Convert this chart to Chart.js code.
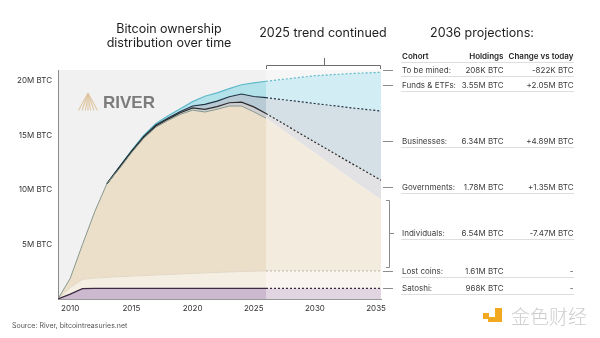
<!DOCTYPE html>
<html>
<head>
<meta charset="utf-8">
<title>Bitcoin ownership distribution over time</title>
<script src="https://cdn.jsdelivr.net/npm/chart.js@4.4.1/dist/chart.umd.min.js"></script>
<style>
  html, body { margin: 0; padding: 0; background: #fff; }
  #wrap { position: relative; width: 600px; height: 338px; overflow: hidden;
          font-family: Inter, "Noto Sans", sans-serif; color: #222; }
  #chart { position: absolute; left: 0; top: 0; }
  .txt { position: absolute; white-space: nowrap; line-height: 1; }
  .title { font-size: 12.5px; color: #1e1e1e; transform: translateX(-50%); text-align: center; }
  .cell { position: absolute; white-space: nowrap; font-size: 8px; line-height: 10px; color: #3c3c3c; }
  .hd { font-weight: 600; color: #1e1e1e; }
  .num { text-align: right; }
  .rule { position: absolute; left: 401px; width: 173px; height: 1px; background: #dedede; }
  .mark { position: absolute; background: #f3a91f; }
</style>
</head>
<body>
<div id="wrap">
  <canvas id="chart" width="600" height="338"></canvas>

  <div class="txt title" style="left:169px;top:22px;line-height:14px">Bitcoin ownership<br>distribution over time</div>
  <div class="txt title" style="left:323px;top:27px">2025 trend continued</div>
  <div class="txt title" style="left:482px;top:27px">2036 projections:</div>

  <svg style="position:absolute;left:78px;top:93px" width="20" height="18">
    <g stroke="#dfc6a3" stroke-width="1.1">
      <line x1="10" y1="0" x2="0.5" y2="17.5"/><line x1="10" y1="0" x2="4" y2="17.5"/>
      <line x1="10" y1="0" x2="7.5" y2="17.5"/><line x1="10" y1="0" x2="10" y2="17.5"/>
      <line x1="10" y1="0" x2="12.5" y2="17.5"/><line x1="10" y1="0" x2="16" y2="17.5"/>
      <line x1="10" y1="0" x2="19.5" y2="17.5"/>
    </g>
  </svg>
  <div class="txt" style="left:103px;top:94px;font-size:17px;font-weight:700;color:#7c7c7c;font-family:'Liberation Sans',Arial,sans-serif">RIVER</div>

  <div id="table"></div>

  <div class="txt" style="left:12px;top:322px;font-size:7px;color:#555">Source: River, bitcointreasuries.net</div>

  <div class="mark" style="left:483px;top:313px;width:6px;height:6px"></div>
  <div class="mark" style="left:495px;top:308px;width:7px;height:14px"></div>
  <div class="mark" style="left:488px;top:317px;width:14px;height:5px"></div>
  <div class="txt" style="left:511px;top:306px;font-size:19px;font-weight:300;color:#cdcdcd;font-family:'Noto Sans CJK SC',sans-serif">金色财经</div>
</div>

<script>
// yearly points (Jan 1); after 2026 the 2025 trend is continued to the right edge
const years = [2009, 2010, 2011, 2012, 2013, 2014, 2015, 2016, 2017, 2018, 2019,
               2020, 2021, 2022, 2023, 2024, 2025, 2026, 2030, 2033, 2035.4];

// holdings per cohort, million BTC
const satoshi      = [0, 0.45, 0.95, 0.968, 0.968, 0.968, 0.968, 0.968, 0.968, 0.968, 0.968,
                      0.968, 0.968, 0.968, 0.968, 0.968, 0.968, 0.968, 0.968, 0.968, 0.968];
const lostCoins    = [0, 0.6, 0.85, 0.95, 1.02, 1.08, 1.13, 1.18, 1.23, 1.28, 1.33,
                      1.38, 1.43, 1.47, 1.51, 1.55, 1.58, 1.61, 1.61, 1.61, 1.61];
const individuals  = [0, 0.85, 3.2, 6.08, 8.6, 9.88, 11.3, 12.58, 13.55, 14.13, 14.63,
                      14.97, 14.75, 14.96, 15.22, 15.18, 14.62, 14.01, 10.8, 8.4, 6.54];
const governments  = [0, 0, 0, 0, 0, 0.1, 0.1, 0.1, 0.12, 0.12, 0.15,
                      0.2, 0.25, 0.25, 0.3, 0.35, 0.45, 0.43, 1.0, 1.45, 1.78];
const businesses   = [0, 0, 0, 0, 0, 0.05, 0.05, 0.07, 0.08, 0.1, 0.12,
                      0.18, 0.45, 0.5, 0.55, 0.75, 0.95, 1.45, 3.55, 5.1, 6.34];
const fundsEtfs    = [0, 0, 0, 0, 0, 0.02, 0.05, 0.1, 0.15, 0.2, 0.25,
                      0.4, 0.75, 0.75, 0.75, 0.85, 1.25, 1.5, 2.55, 3.15, 3.55];

const projStart = 2026;
const maxSupply = 21;
const xTicks = [2010, 2015, 2020, 2025, 2030, 2035];
const yTicks = [5, 10, 15, 20];

// 2036 projection table
const cohortNames   = ['To be mined:', 'Funds & ETFs:', 'Businesses:', 'Governments:', 'Individuals:', 'Lost coins:', 'Satoshi:'];
const holdings2036  = ['208K BTC', '3.55M BTC', '6.34M BTC', '1.78M BTC', '6.54M BTC', '1.61M BTC', '968K BTC'];
const changeVsToday = ['-822K BTC', '+2.05M BTC', '+4.89M BTC', '+1.35M BTC', '-7.47M BTC', '-', '-'];

// layout of the table rows (px)
const rowY = [69.5, 85, 141, 186.5, 232.5, 271, 287.5];

function cell(text, y, left, right, cls) {
  const d = document.createElement('div');
  d.className = 'cell ' + (cls || '');
  d.textContent = text;
  d.style.top = (y - 5) + 'px';
  if (left != null) d.style.left = left + 'px';
  if (right != null) d.style.right = (600 - right) + 'px';
  document.getElementById('table').appendChild(d);
}
function rule(y) {
  const d = document.createElement('div');
  d.className = 'rule';
  d.style.top = y + 'px';
  document.getElementById('table').appendChild(d);
}

cell('Cohort', 55.5, 402, null, 'hd');
cell('Holdings', 55.5, null, 503.5, 'hd num');
cell('Change vs today', 55.5, null, 573.5, 'hd num');
rule(62);
cohortNames.forEach((name, i) => {
  cell(name, rowY[i], 402);
  cell(holdings2036[i], rowY[i], null, 503.5, 'num');
  cell(changeVsToday[i], rowY[i], null, 573.5, 'num');
  rule(rowY[i] + 6);
});

const isProj = ctx => ctx.p0.parsed.x >= projStart;
// no edge line while a cohort still holds nothing
const isEmpty = ctx => ctx.p0.parsed.y === 0 && ctx.p1.parsed.y === 0;

function series(label, values, fill, line, width, projLine, first) {
  return {
    label,
    data: years.map((x, i) => ({ x, y: values[i] })),
    backgroundColor: fill,
    borderColor: line,
    borderWidth: width,
    fill: first ? 'origin' : '-1',
    pointRadius: 0,
    tension: 0,
    segment: {
      borderDash: ctx => isProj(ctx) ? [2, 2] : [],
      borderColor: ctx => isProj(ctx) ? projLine : (isEmpty(ctx) && !first ? 'rgba(0,0,0,0)' : line)
    }
  };
}

const decor = {
  id: 'decor',
  beforeDraw(chart) {
    const { ctx, chartArea: a } = chart;
    ctx.save();
    ctx.fillStyle = '#f1f1f1';
    ctx.fillRect(a.left, a.top, a.right - a.left, a.bottom - a.top);
    ctx.restore();
  },
  // fills are already drawn here (filler drawTime), lines come after
  beforeDatasetsDraw(chart) {
    const { ctx, chartArea: a, scales: { x } } = chart;
    const x0 = x.getPixelForValue(projStart);
    ctx.save();
    ctx.fillStyle = 'rgba(255,255,255,0.4)';
    ctx.fillRect(x0, a.top, a.right - x0, a.bottom - a.top);
    ctx.restore();
  },
  afterDraw(chart) {
    const { ctx, chartArea: a, scales: { x } } = chart;
    const x0 = Math.round(x.getPixelForValue(projStart)) + 0.5;
    const x1 = Math.round(a.right) - 0.5;
    const xm = Math.round((x0 + x1) / 2) + 0.5;
    ctx.save();
    ctx.lineWidth = 1;
    ctx.strokeStyle = '#6e6e6e';
    ctx.beginPath();
    ctx.moveTo(x0, 69); ctx.lineTo(x0, 65.5); ctx.lineTo(x1, 65.5); ctx.lineTo(x1, 69);
    ctx.moveTo(xm, 65.5); ctx.lineTo(xm, 58);
    ctx.stroke();

    ctx.strokeStyle = '#8c8c8c';
    ctx.beginPath();
    rowY.forEach((y, i) => {
      const yy = Math.round(y) + 0.5;
      if (i === 4) {
        ctx.moveTo(389.5, yy); ctx.lineTo(394, yy);
      } else {
        ctx.moveTo(383, yy); ctx.lineTo(393, yy);
      }
    });
    // bracket for individuals
    ctx.moveTo(386, 200.5); ctx.lineTo(389.5, 200.5); ctx.lineTo(389.5, 267.5); ctx.lineTo(386, 267.5);
    ctx.stroke();
    ctx.restore();
  }
};

new Chart(document.getElementById('chart'), {
  type: 'line',
  data: {
    datasets: [
      series('Satoshi', satoshi, '#cdb9cf', '#3b2a42', 1.2, '#3b2a42', true),
      series('Lost coins', lostCoins, '#f5efe3', '#e3d8c6', 1, '#b9b1a6'),
      series('Individuals', individuals, '#ecdfc9', '#86998f', 1, 'rgba(0,0,0,0)'),
      series('Governments', governments, '#cfcfd2', '#2b2b2b', 1.2, '#2b2b2b'),
      series('Businesses', businesses, '#b8cbd5', '#1e3547', 1.2, '#1e3547'),
      series('Funds & ETFs', fundsEtfs, '#b4e2eb', '#5fb9c9', 1.2, '#5fb9c9')
    ]
  },
  options: {
    responsive: false,
    animation: false,
    devicePixelRatio: 1,
    layout: { padding: { left: 0, top: 70, right: 219, bottom: 19 } },
    plugins: {
      legend: { display: false },
      tooltip: { enabled: false },
      filler: { drawTime: 'beforeDatasetsDraw' }
    },
    scales: {
      x: {
        type: 'linear',
        min: 2009,
        max: years[years.length - 1],
        z: 1,
        grid: { display: false, drawTicks: false },
        border: { display: true, color: '#999', width: 1 },
        afterBuildTicks: s => { s.ticks = xTicks.map(v => ({ value: v })); },
        afterFit: s => { s.height = 20; },
        ticks: {
          padding: 5,
          maxRotation: 0,
          color: '#333',
          font: { family: 'Inter', size: 8 },
          callback: v => String(v)
        }
      },
      y: {
        stacked: true,
        min: 0,
        max: maxSupply,
        z: 1,
        grid: { display: false, drawTicks: false },
        border: { display: true, color: '#8a8a8a', width: 1 },
        afterBuildTicks: s => { s.ticks = yTicks.map(v => ({ value: v })); },
        afterFit: s => { s.width = 58; },
        ticks: {
          padding: 6,
          color: '#333',
          font: { family: 'Inter', size: 8 },
          callback: v => v + 'M BTC'
        }
      }
    }
  },
  plugins: [decor]
});
</script>
</body>
</html>
